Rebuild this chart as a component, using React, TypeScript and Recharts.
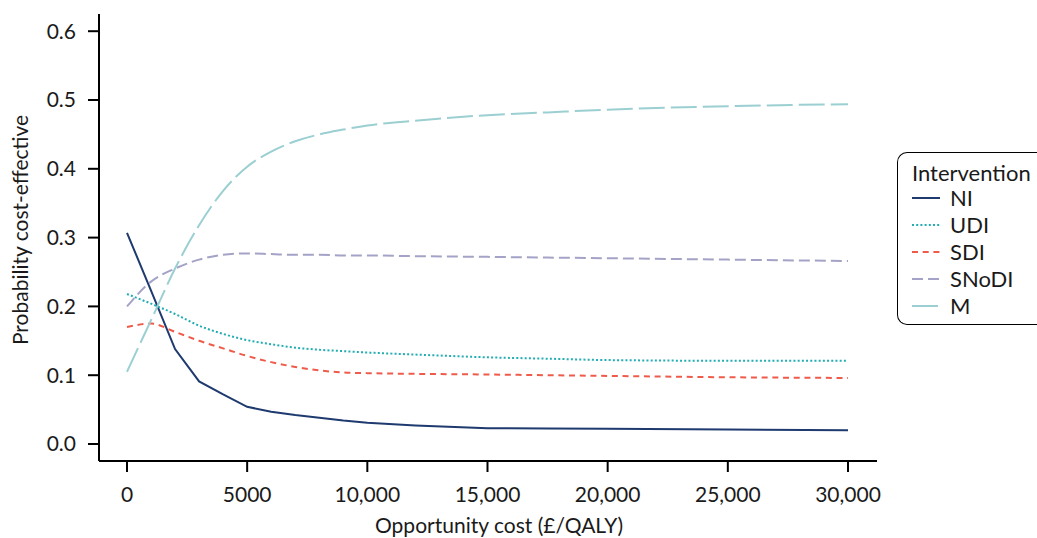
import React from 'react';
import { LineChart, Line, XAxis, YAxis, Label } from 'recharts';

// Opportunity cost thresholds (£/QALY)
const costs = [0, 1000, 2000, 3000, 4000, 5000, 6000, 7000, 8000, 9000, 10000, 12000, 15000, 17500, 20000, 25000, 30000];

// Probability cost-effective per intervention
const niValues = [0.307, 0.223, 0.138, 0.091, 0.072, 0.054, 0.047, 0.042, 0.038, 0.034, 0.031, 0.027, 0.023, 0.0225, 0.022, 0.021, 0.020];
const udiValues = [0.218, 0.204, 0.189, 0.172, 0.160, 0.151, 0.145, 0.140, 0.137, 0.135, 0.133, 0.130, 0.126, 0.124, 0.122, 0.121, 0.121];
const sdiValues = [0.170, 0.175, 0.163, 0.150, 0.139, 0.128, 0.119, 0.112, 0.107, 0.104, 0.103, 0.102, 0.101, 0.100, 0.099, 0.097, 0.096];
const snodiValues = [0.200, 0.236, 0.255, 0.268, 0.275, 0.277, 0.276, 0.275, 0.275, 0.274, 0.274, 0.273, 0.272, 0.271, 0.270, 0.268, 0.266];
const mValues = [0.105, 0.180, 0.255, 0.318, 0.368, 0.403, 0.425, 0.440, 0.450, 0.457, 0.463, 0.470, 0.478, 0.482, 0.486, 0.491, 0.494];

const xTicks = [0, 5000, 10000, 15000, 20000, 25000, 30000];
const yTicks = [0, 0.1, 0.2, 0.3, 0.4, 0.5, 0.6];

const series = [
  { key: 'NI', values: niValues, color: '#1e3a6e', dash: undefined, curve: 'linear' },
  { key: 'UDI', values: udiValues, color: '#22adb3', dash: '2 2.2', curve: 'monotone' },
  { key: 'SDI', values: sdiValues, color: '#ee5b4b', dash: '6 4.7', curve: 'monotone' },
  { key: 'SNoDI', values: snodiValues, color: '#a4a3c7', dash: '11 5', curve: 'monotone' },
  { key: 'M', values: mValues, color: '#9bcfd2', dash: '26 6', curve: 'monotone' }
];

const chartData = costs.map((cost, i) => {
  const row: Record<string, number> = { cost };
  series.forEach(s => {
    row[s.key] = s.values[i];
  });
  return row;
});

const FONT = 'Lato, "Noto Sans", sans-serif';
const TEXT = '#1a1a1a';

const formatCost = (v: number) => (v >= 10000 ? v.toLocaleString('en-GB') : String(v));

export default function App() {
  return (
    <div
      style={{
        position: 'fixed',
        left: 0,
        top: 0,
        width: 1037,
        height: 538,
        overflow: 'hidden',
        background: '#fff',
        fontFamily: FONT
      }}
    >
      <div style={{ position: 'absolute', left: 8, top: 8 }}>
        <LineChart
          width={1021}
          height={530}
          data={chartData}
          margin={{ top: 6, right: 152, left: 0, bottom: 17 }}
        >
          <XAxis
            dataKey="cost"
            type="number"
            domain={[-1165, 31207]}
            ticks={xTicks}
            allowDataOverflow
            tickFormatter={formatCost}
            height={60}
            tickSize={11}
            tickMargin={15}
            axisLine={{ stroke: '#000', strokeWidth: 2 }}
            tickLine={{ stroke: '#000', strokeWidth: 2 }}
            tick={{ fill: TEXT, fontSize: 21, fontFamily: FONT }}
          >
            <Label
              content={(props: any) => {
                const vb = props.viewBox || { x: 91, y: 453, width: 778 };
                return (
                  <text
                    x={vb.x + vb.width / 2 + 11}
                    y={vb.y + 72}
                    textAnchor="middle"
                    fill={TEXT}
                    fontSize={21}
                    fontFamily={FONT}
                  >
                    Opportunity cost (£/QALY)
                  </text>
                );
              }}
            />
          </XAxis>
          <YAxis
            type="number"
            domain={[-0.0247, 0.625]}
            ticks={yTicks}
            allowDataOverflow
            tickFormatter={(v: number) => v.toFixed(1)}
            width={91}
            tickSize={11}
            tickMargin={12}
            axisLine={{ stroke: '#000', strokeWidth: 2 }}
            tickLine={{ stroke: '#000', strokeWidth: 2 }}
            tick={{ fill: TEXT, fontSize: 21, fontFamily: FONT }}
          >
            <Label
              content={() => (
                <text
                  x={20}
                  y={222}
                  transform="rotate(-90, 20, 222)"
                  textAnchor="middle"
                  fill={TEXT}
                  fontSize={21}
                  fontFamily={FONT}
                >
                  Probability cost-effective
                </text>
              )}
            />
          </YAxis>
          {series.map(s => (
            <Line
              key={s.key}
              dataKey={s.key}
              type={s.curve as any}
              stroke={s.color}
              strokeWidth={2}
              strokeDasharray={s.dash}
              dot={false}
              activeDot={false}
              isAnimationActive={false}
            />
          ))}
        </LineChart>
      </div>
      <div
        style={{
          position: 'absolute',
          left: 897,
          top: 152,
          width: 220,
          height: 173,
          borderTop: '1.5px solid #000',
          borderBottom: '1.5px solid #000',
          borderLeft: '1.5px solid #000',
          borderRight: 'none',
          borderTopLeftRadius: 10,
          borderBottomLeftRadius: 10,
          boxSizing: 'border-box',
          paddingTop: 8,
          paddingLeft: 14,
          color: TEXT,
          fontSize: 22,
          whiteSpace: 'nowrap'
        }}
      >
        <div style={{ height: 23, lineHeight: '23px' }}>Intervention</div>
        {series.map(s => (
          <div key={s.key} style={{ height: 27, display: 'flex', alignItems: 'center' }}>
            <svg width={28} height={27} style={{ marginRight: 10 }}>
              <line x1={0} y1={14} x2={28} y2={14} stroke={s.color} strokeWidth={2} strokeDasharray={s.dash} />
            </svg>
            <span style={{ lineHeight: '27px' }}>{s.key}</span>
          </div>
        ))}
      </div>
    </div>
  );
}
